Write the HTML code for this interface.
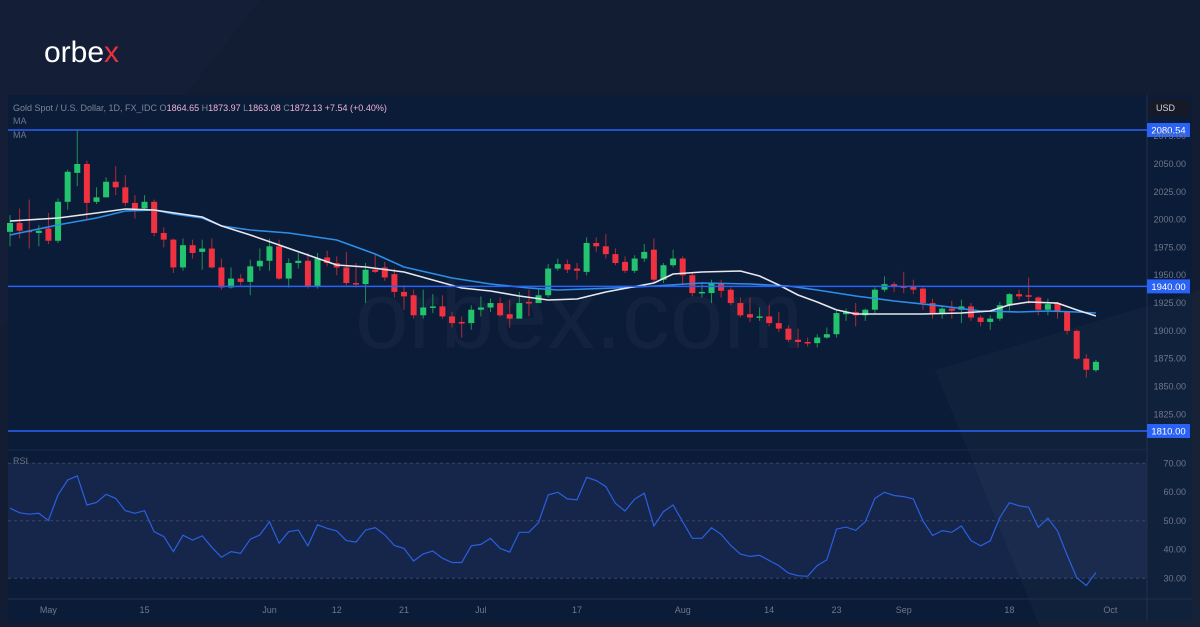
<!DOCTYPE html>
<html><head><meta charset="utf-8">
<style>
html,body{margin:0;padding:0;width:1200px;height:627px;overflow:hidden;background:#111c32;font-family:"Liberation Sans",sans-serif;}
svg{display:block}
</style></head>
<body>
<svg id="chart" width="1200" height="627" viewBox="0 0 1200 627" xmlns="http://www.w3.org/2000/svg">
  <rect x="0" y="0" width="1200" height="627" fill="#121d33"/>
  <polygon points="0,0 260,0 0,330" fill="#16223a" opacity="0.6"/>
  <text x="44" y="62" font-size="30" fill="#ffffff" font-family="Liberation Sans, sans-serif">orbe<tspan fill="#e8323c">x</tspan></text>
  <rect x="8" y="95" width="1184" height="526" fill="#0b1c38"/>
  <rect x="8" y="463" width="1139" height="115" fill="#15264a"/>
  <text x="355" y="348" font-size="96" fill="#13233f" font-family="Liberation Sans, sans-serif">orbex.com</text>
  <polygon points="935,370 1200,290 1200,627 1040,627" fill="#ffffff" opacity="0.025"/>
  <line x1="1147" y1="95" x2="1147" y2="621" stroke="#23304a"/>
  <line x1="8" y1="599" x2="1192" y2="599" stroke="#23304a"/>
  <line x1="8" y1="450" x2="1147" y2="450" stroke="#1a2a48"/>
  <g id="grid"></g>
  <g id="candles"></g>
  <g id="mas"></g>
  <g id="levels"></g>
  <g id="rsi"></g>
  <g id="axes"></g>
  <text x="13" y="111" font-size="9" fill="#7d8597">Gold Spot / U.S. Dollar, 1D, FX_IDC  O<tspan fill="#f0b4d2">1864.65</tspan>  H<tspan fill="#f0b4d2">1873.97</tspan>  L<tspan fill="#f0b4d2">1863.08</tspan>  C<tspan fill="#f0b4d2">1872.13</tspan>  <tspan fill="#f0b4d2">+7.54 (+0.40%)</tspan></text>
  <text x="13" y="124" font-size="9" fill="#6d7587">MA</text>
  <text x="13" y="138" font-size="9" fill="#6d7587">MA</text>
  <text x="13" y="464" font-size="9" fill="#6d7587">RSI</text>
  <rect x="1149" y="99" width="40" height="17" rx="3" fill="#151a26"/>
  <text x="1156" y="111" font-size="9" fill="#d0d4dc">USD</text>
</svg>
<script>
const opens=[1989,1997,1990,1988,1992,1981,2016,2042,2050,2016,2020,2034,2029,2015,2010,2016,1988,1982,1957,1977,1971,1974,1957,1939,1947,1944,1958,1963,1976,1947,1961,1963,1940,1966,1961,1957,1943,1942,1955,1957,1951,1935,1932,1914,1921,1922,1913,1908,1907,1919,1921,1925,1915,1911,1926,1925,1932,1956,1960,1956,1953,1979,1976,1969,1962,1954,1965,1973,1946,1959,1965,1950,1934,1934,1943,1937,1925,1915,1912,1913,1907,1902,1892,1890,1889,1894,1897,1915,1917,1914,1919,1937,1942,1940,1940,1938,1925,1916,1920,1919,1922,1912,1908,1911,1923,1933,1932,1930,1919,1925,1917,1900,1875,1864.65];
const closes=[1997,1990,1989,1990,1981,2016,2043,2050,2015,2020,2034,2029,2015,2010,2016,1988,1982,1957,1977,1970,1974,1957,1939,1947,1944,1958,1963,1976,1947,1961,1963,1940,1965,1961,1957,1943,1942,1955,1953,1948,1935,1931,1914,1921,1922,1913,1907,1907,1919,1921,1925,1914,1911,1925,1925,1932,1956,1960,1955,1954,1979,1976,1969,1961,1954,1965,1971,1946,1959,1965,1950,1934,1935,1943,1936,1925,1914,1912,1913,1907,1902,1892,1890,1889,1894,1897,1916,1917,1914,1919,1937,1942,1940,1939,1937,1925,1916,1920,1918,1922,1912,1908,1911,1923,1933,1931,1931,1919,1924,1917,1900,1875,1865,1872.13];
const highs=[2004,2010,2018,1995,2006,2019,2045,2081,2053,2029,2038,2048,2040,2022,2022,2018,1993,1983,1983,1982,1982,1983,1965,1957,1951,1964,1974,1983,1982,1965,1970,1970,1970,1972,1967,1971,1961,1961,1969,1962,1956,1941,1937,1937,1933,1932,1917,1913,1923,1931,1929,1930,1928,1935,1937,1938,1960,1965,1964,1961,1984,1984,1987,1974,1967,1968,1978,1983,1961,1973,1967,1953,1943,1946,1946,1939,1930,1930,1921,1923,1917,1905,1902,1894,1897,1903,1918,1920,1925,1920,1939,1949,1944,1953,1946,1939,1929,1922,1927,1928,1925,1914,1914,1926,1934,1937,1948,1931,1929,1926,1917,1901,1879,1873.97];
const lows=[1976,1983,1974,1976,1978,1979,2009,2030,2000,2014,2020,2022,2012,2001,2009,1985,1975,1952,1954,1965,1955,1956,1937,1938,1941,1932,1954,1954,1946,1939,1956,1938,1938,1958,1950,1941,1939,1925,1952,1945,1930,1919,1911,1911,1916,1911,1903,1894,1901,1913,1917,1913,1903,1913,1913,1926,1930,1954,1952,1946,1950,1971,1965,1959,1952,1952,1962,1943,1943,1957,1941,1931,1930,1925,1930,1923,1912,1908,1909,1904,1899,1890,1885,1886,1885,1893,1894,1909,1904,1909,1916,1935,1935,1934,1933,1919,1911,1911,1911,1907,1909,1904,1901,1909,1918,1928,1924,1914,1914,1911,1897,1874,1858,1863.08];
const maFastIdx=[0,5,9,12,15,20,22,25,28,31,34,37,41,44,47,50,53,56,59,62,67,69,72,76,78,80,82,84,86,88,95,99,102,104,106,109,111,113];
const maFastVal=[1998.7,2001.4,2005.9,2009.5,2008.6,2002.3,1994.3,1986.2,1977.2,1968.2,1959.2,1957.4,1952.9,1945.7,1938.5,1935.8,1931.3,1927.7,1928.6,1934.9,1943.0,1951.1,1952.9,1953.8,1949.3,1941.2,1932.2,1925.9,1918.8,1915.2,1915.2,1916.1,1917.9,1923.3,1925.9,1925.0,1918.8,1913.4];
const maSlowIdx=[0,5,9,12,15,17,20,22,25,29,34,38,41,46,50,54,57,63,67,72,77,81,84,88,92,97,101,105,108,111,113];
const maSlowVal=[1986.2,1995.2,2001.4,2007.7,2008.6,2005.0,2001.4,1994.3,1990.7,1988.0,1981.7,1969.1,1957.4,1947.5,1942.1,1938.5,1936.7,1938.5,1940.3,1943.0,1942.1,1940.3,1936.7,1931.3,1926.8,1922.3,1917.9,1917.0,1917.9,1917.0,1916.1];
const rsiVals=[54.4,52.8,52.3,52.6,50.1,59.0,64.2,65.6,55.5,56.4,59.2,57.8,53.5,52.6,53.5,46.2,44.5,39.3,45.0,43.3,44.8,40.8,37.3,39.3,38.7,43.6,45.1,49.7,42.2,46.2,46.8,41.3,48.6,47.4,46.5,43.1,42.6,46.8,47.6,45.1,41.4,40.4,36.0,38.5,39.5,37.0,35.5,35.5,41.3,41.8,43.9,40.4,39.1,46.0,46.0,49.4,59.0,59.9,57.6,57.3,65.1,64.0,61.9,56.1,53.4,57.5,59.6,48.2,53.2,55.5,49.7,43.9,43.9,47.6,45.3,41.4,38.4,37.6,38.0,36.2,34.4,31.8,30.9,30.7,34.4,36.4,47.1,47.8,46.7,49.7,57.8,59.9,58.8,58.4,57.6,50.0,44.9,46.6,46.0,48.2,43.1,41.3,43.0,51.1,56.3,55.2,54.7,47.7,50.9,46.5,38.1,30.2,27.5,32.0];
const priceTicks=[2075,2050,2025,2000,1975,1950,1925,1900,1875,1850,1825];
const levels=[2080.54,1940.00,1810.00];
const rsiTicks=[70,60,50,40,30];
const dateLabels=["May","15","Jun","12","21","Jul","17","Aug","14","23","Sep","18","Oct"];
const dateIdx=[4,14,27,34,41,49,59,70,79,86,93,104,114.5];

const NS="http://www.w3.org/2000/svg";
function xAt(i){return 10+9.61*i;}
function yP(p){return 431-(p-1810)*1.1126;}
function yR(v){return 578.3-(v-30)*2.875;}
function mk(tag,attrs,parent){const e=document.createElementNS(NS,tag);for(const k in attrs)e.setAttribute(k,attrs[k]);parent.appendChild(e);return e;}
const grid=document.getElementById('grid'),cg=document.getElementById('candles'),mg=document.getElementById('mas'),lg=document.getElementById('levels'),rg=document.getElementById('rsi'),ag=document.getElementById('axes');

priceTicks.forEach(p=>{
  const t=mk('text',{x:1186,y:yP(p)+3,'font-size':9,fill:'#6f7789','text-anchor':'end'},ag);
  t.textContent=p.toFixed(2);
  
  
});
rsiTicks.forEach(v=>{
  if(v===70||v===50||v===30){
    const l=mk('line',{x1:8,x2:1147,y1:yR(v),y2:yR(v),stroke:'#3a4762','stroke-dasharray':'3,3'},grid);
    
    
  }
  const t=mk('text',{x:1186,y:yR(v)+3,'font-size':9,fill:'#6f7789','text-anchor':'end'},ag);
  t.textContent=v.toFixed(2);
  
  
});
dateLabels.forEach((d,k)=>{
  const t=mk('text',{x:xAt(dateIdx[k]),y:613,'font-size':9,fill:'#6f7789','text-anchor':'middle'},ag);
  t.textContent=d;
  
  
});
opens.forEach((o,i)=>{
  const c=closes[i],up=c>=o,col=up?'#22c46e':'#f0313f',x=xAt(i);
  const g=mk('g',{},cg);
  
  
  mk('line',{x1:x,x2:x,y1:yP(highs[i]),y2:yP(lows[i]),stroke:up?'#1f8f55':'#b02a37','stroke-width':1},g);
  const t=Math.min(yP(o),yP(c)),h=Math.max(1.5,Math.abs(yP(o)-yP(c)));
  mk('rect',{x:x-3,y:t,width:6,height:h,fill:col},g);
});
function poly(idx,vals,col,w,name){
  const pts=idx.map((i,k)=>xAt(i).toFixed(1)+','+yP(vals[k]).toFixed(1)).join(' ');
  const p=mk('polyline',{points:pts,fill:'none',stroke:col,'stroke-width':w,'stroke-linejoin':'round'},mg);
  
  
}
poly(maSlowIdx,maSlowVal,'#2d8ee8',1.6,'ma-slow-line');
poly(maFastIdx,maFastVal,'#e6e8ee',1.6,'ma-fast-line');
levels.forEach(v=>{
  const l=mk('line',{x1:8,x2:1147,y1:yP(v),y2:yP(v),stroke:'#2a62f5','stroke-width':1.5},lg);
  
  
  const r=mk('rect',{x:1147,y:yP(v)-7,width:43,height:14,fill:'#2a62f5'},lg);
  
  
  const t=mk('text',{x:1168.5,y:yP(v)+3.5,'font-size':9.5,fill:'#ffffff','text-anchor':'middle'},lg);
  t.textContent=v.toFixed(2);
  
  
});
const rp=mk('polyline',{points:rsiVals.map((v,i)=>xAt(i).toFixed(1)+','+yR(v).toFixed(1)).join(' '),fill:'none',stroke:'#2a5fe0','stroke-width':1.2},rg);


</script>
</body></html>
